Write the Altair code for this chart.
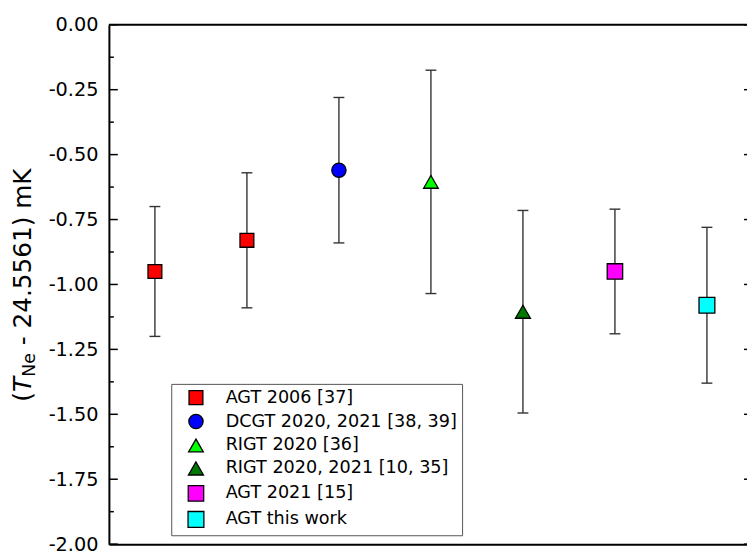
import altair as alt
import pandas as pd

# ---------------- data ----------------
CATEGORIES = ["AGT 2006 [37]", "DCGT 2020, 2021 [38, 39]", "RIGT 2020 [36]",
              "RIGT 2020, 2021 [10, 35]", "AGT 2021 [15]", "AGT this work"]
CAT_COLORS = ["#ff0000", "#0000ff", "#00ff00", "#007800", "#ff00ff", "#00ffff"]
CAT_SHAPES = ["square", "circle", "triangle-up", "triangle-up", "square", "square"]
CAT_SIZES = [196, 256, 420, 420, 196, 196]
CAT_STROKES = ["black"] * 6

POINT_CATS = ["AGT 2006 [37]", "AGT 2006 [37]", "DCGT 2020, 2021 [38, 39]",
              "RIGT 2020 [36]", "RIGT 2020, 2021 [10, 35]", "AGT 2021 [15]",
              "AGT this work"]
POINT_X = [1, 2, 3, 4, 5, 6, 7]
POINT_Y = [-0.95, -0.83, -0.56, -0.605, -1.105, -0.95, -1.08]
POINT_U = [0.25, 0.26, 0.28, 0.43, 0.39, 0.24, 0.30]

MAJOR_TICKS = [0.0, -0.25, -0.5, -0.75, -1.0, -1.25, -1.5, -1.75, -2.0]
MINOR_TICKS = [-0.125, -0.375, -0.625, -0.875, -1.125, -1.375, -1.625, -1.875]

FONT = "DejaVu Sans"

df = pd.DataFrame({"x": POINT_X, "y": POINT_Y, "u": POINT_U, "cat": POINT_CATS})
df["lo"] = df["y"] - df["u"]
df["hi"] = df["y"] + df["u"]
df_major = pd.DataFrame({"v": MAJOR_TICKS})
df_minor = pd.DataFrame({"v": MINOR_TICKS})

W = 645          # visible plot width
PLOT_W = 651     # full plot box (extends past the visible page edge)

X_SCALE = alt.Scale(domain=[0.5, 0.5 + 7.0 * W / PLOT_W], nice=False, zero=False)
Y_SCALE = alt.Scale(domain=[-2.0, 0.0], nice=False, zero=False)
X_AXIS = alt.Axis(labels=False, ticks=False, title=None, grid=False,
                  domainColor="black", domainWidth=2)
Y_AXIS = alt.Axis(values=MAJOR_TICKS, title=None, grid=False, ticks=False, tickSize=0,
                  labelExpr="(datum.value < 0 ? '-' : '') + format(abs(datum.value), '.2f')",
                  labelFont=FONT, labelFontSize=19.5, labelColor="black",
                  labelPadding=11, domainColor="black", domainWidth=2)

top_border = alt.Chart(pd.DataFrame({"k": [0]})).mark_rule(color="black", strokeWidth=2).encode(
    x=alt.value(0), x2=alt.value(PLOT_W), y=alt.value(0))


def tick_layer(data, x0, x1):
    return alt.Chart(data).mark_rule(color="black", strokeWidth=1.5).encode(
        y=alt.Y("v:Q", scale=Y_SCALE, axis=Y_AXIS),
        x=alt.value(x0), x2=alt.value(x1))


left_major = tick_layer(df_major, 0, 9)
left_minor = tick_layer(df_minor, 0, 5)
right_major = tick_layer(df_major, PLOT_W - 9, PLOT_W)
right_minor = tick_layer(df_minor, PLOT_W - 5, PLOT_W)

base = alt.Chart(df)
err = base.mark_rule(color="#333333", strokeWidth=1.4).encode(
    x=alt.X("x:Q", scale=X_SCALE, axis=X_AXIS),
    y=alt.Y("lo:Q", scale=Y_SCALE, axis=Y_AXIS),
    y2="hi:Q")
CAP = dict(shape="M-1,0L1,0", size=121, filled=False, stroke="#333333", strokeWidth=1.4, opacity=1)
cap_lo = base.mark_point(**CAP).encode(
    x=alt.X("x:Q", scale=X_SCALE, axis=X_AXIS),
    y=alt.Y("lo:Q", scale=Y_SCALE, axis=Y_AXIS))
cap_hi = base.mark_point(**CAP).encode(
    x=alt.X("x:Q", scale=X_SCALE, axis=X_AXIS),
    y=alt.Y("hi:Q", scale=Y_SCALE, axis=Y_AXIS))

LEGEND = alt.Legend(title=None, orient="none", legendX=63, legendY=363,
                    fillColor="white", strokeColor="#555555",
                    padding=5, rowPadding=4.2, symbolOffset=11, labelOffset=21,
                    labelFont=FONT, labelFontSize=17.8, labelColor="black", labelLimit=400,
                    symbolStrokeColor="black", symbolStrokeWidth=1.3)

points = base.mark_point(filled=True, opacity=1, fillOpacity=1,
                         strokeWidth=1.3).encode(
    x=alt.X("x:Q", scale=X_SCALE, axis=X_AXIS),
    y=alt.Y("y:Q", scale=Y_SCALE, axis=Y_AXIS),
    fill=alt.Fill("cat:N", scale=alt.Scale(domain=CATEGORIES, range=CAT_COLORS), legend=LEGEND),
    stroke=alt.Stroke("cat:N", scale=alt.Scale(domain=CATEGORIES, range=CAT_STROKES), legend=LEGEND),
    shape=alt.Shape("cat:N", scale=alt.Scale(domain=CATEGORIES, range=CAT_SHAPES), legend=LEGEND),
    size=alt.Size("cat:N", scale=alt.Scale(domain=CATEGORIES, range=CAT_SIZES), legend=LEGEND),
)

# y-axis title built from pieces: "(" , italic T, subscript Ne, rest
one = pd.DataFrame({"k": [0]})
TITLE_X = -79
TITLE_Y0 = 381
FS = 25
Y_T = TITLE_Y0 - 0.39 * FS
Y_NE = Y_T - 0.62 * FS
Y_REST = Y_NE - 0.954 * FS - 0.318 * FS
t1 = alt.Chart(one).mark_text(text="(", angle=270, align="left", baseline="alphabetic",
                              font=FONT, fontSize=FS, color="black").encode(
    x=alt.value(TITLE_X), y=alt.value(TITLE_Y0))
t2 = alt.Chart(one).mark_text(text="T", angle=270, align="left", baseline="alphabetic",
                              font=FONT, fontSize=FS, fontStyle="italic", color="black").encode(
    x=alt.value(TITLE_X), y=alt.value(Y_T))
t3 = alt.Chart(one).mark_text(text="Ne", angle=270, align="left", baseline="alphabetic",
                              font=FONT, fontSize=FS * 0.7, color="black").encode(
    x=alt.value(TITLE_X + 4), y=alt.value(Y_NE))
t4 = alt.Chart(one).mark_text(text="- 24.5561) mK", angle=270, align="left", baseline="alphabetic",
                              font=FONT, fontSize=FS, color="black").encode(
    x=alt.value(TITLE_X), y=alt.value(Y_REST))

chart = alt.layer(
    top_border, left_major, left_minor, right_major, right_minor,
    err, cap_lo, cap_hi, points, t1, t2, t3, t4
).properties(
    width=W, height=525,
    padding={"left": 102, "top": 14, "right": 0, "bottom": 6},
    autosize=alt.AutoSizeParams(type="none"),
).configure_view(stroke=None).configure_axis(grid=False).configure_legend(strokeWidth=1)

chart.save("out.html", embed_options={"renderer": "svg", "actions": False})
